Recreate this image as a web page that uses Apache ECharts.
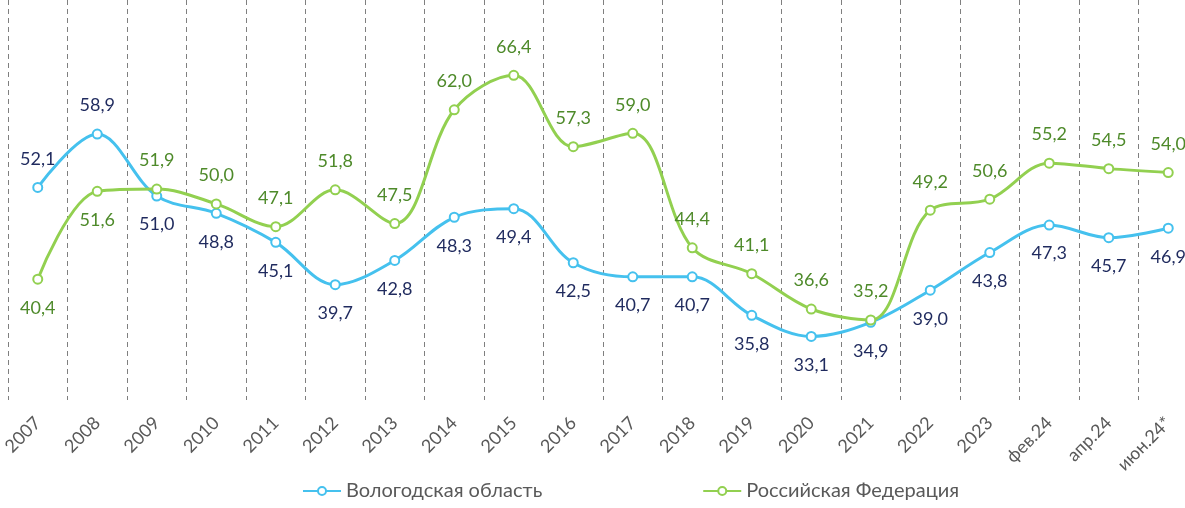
<!DOCTYPE html>
<html>
<head>
<meta charset="utf-8">
<script src="https://cdn.jsdelivr.net/npm/echarts@6/dist/echarts.min.js"></script>
<style>
  html, body { margin: 0; padding: 0; background: #fff; }
  #chart { width: 1185px; height: 508px; }
</style>
</head>
<body>
<div id="chart"></div>
<script>
const categories = ['2007', '2008', '2009', '2010', '2011', '2012', '2013', '2014', '2015', '2016',
  '2017', '2018', '2019', '2020', '2021', '2022', '2023', 'фев.24', 'апр.24', 'июн.24*']
const vologda = [52.1, 58.9, 51.0, 48.8, 45.1, 39.7, 42.8, 48.3, 49.4, 42.5,
  40.7, 40.7, 35.8, 33.1, 34.9, 39.0, 43.8, 47.3, 45.7, 46.9]
const russia = [40.4, 51.6, 51.9, 50.0, 47.1, 51.8, 47.5, 62.0, 66.4, 57.3,
  59.0, 44.4, 41.1, 36.6, 35.2, 49.2, 50.6, 55.2, 54.5, 54.0]

// which points get their label on the other side
const vologdaAbove = [0, 1]
const russiaBelow = [0, 1]

const fmt = v => v.toFixed(1).replace('.', ',')
const font = 'Lato, "Noto Sans", sans-serif'

const chart = echarts.init(document.getElementById('chart'))

const makeData = (values, flipped, base, flip) => values.map((v, i) => ({
  value: v,
  label: { position: flipped.includes(i) ? flip : base }
}))

const lineSeries = (name, values, color, labelColor, flipped, base, flip) => ({
  name: name,
  type: 'line',
  smooth: 0.35,
  symbol: 'emptyCircle',
  symbolSize: 9,
  color: color,
  lineStyle: { width: 3, color: color },
  itemStyle: { borderWidth: 2.5, borderColor: color },
  label: {
    show: true,
    distance: 14,
    color: labelColor,
    fontSize: 18,
    fontFamily: font,
    formatter: p => fmt(p.value)
  },
  data: makeData(values, flipped, base, flip)
})

const option = {
  animation: false,
  grid: { left: 8, width: 1190, top: 0, bottom: 108, outerBoundsMode: 'none' },
  legend: {
    bottom: 2,
    left: 297,
    itemGap: 160,
    itemWidth: 38,
    itemHeight: 10,
    textStyle: { color: '#595959', fontSize: 20, fontFamily: font },
    data: ['Вологодская область', 'Российская Федерация']
  },
  xAxis: {
    type: 'category',
    boundaryGap: true,
    data: categories,
    axisLine: { show: false },
    axisTick: { show: false },
    splitLine: {
      show: true,
      lineStyle: { color: '#7f7f7f', type: [5, 4], width: 1 }
    },
    axisLabel: {
      rotate: 45,
      margin: 20,
      color: '#595959',
      fontSize: 18,
      fontFamily: font
    }
  },
  yAxis: {
    type: 'value',
    min: 25,
    max: 76,
    show: false
  },
  series: [
    lineSeries('Вологодская область', vologda, '#45c1ee', '#1f2a5e', vologdaAbove, 'bottom', 'top'),
    lineSeries('Российская Федерация', russia, '#92d050', '#4e8a2a', russiaBelow, 'top', 'bottom')
  ]
}

chart.setOption(option)
</script>
</body>
</html>
